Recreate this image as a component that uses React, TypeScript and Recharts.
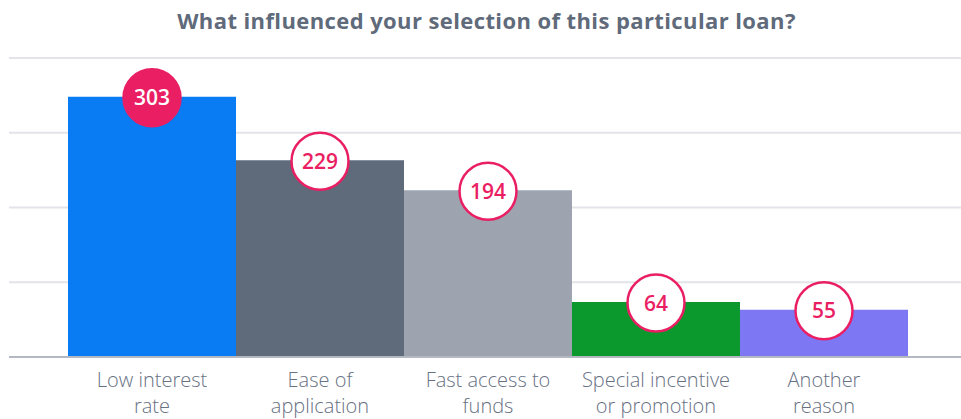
import { Bar, BarChart, CartesianGrid, Cell, LabelList, XAxis, YAxis } from "recharts";

const categories = ["Low interest rate", "Ease of application", "Fast access to funds", "Special incentive or promotion", "Another reason"];
const categoryLines = [
  ["Low interest", "rate"],
  ["Ease of", "application"],
  ["Fast access to", "funds"],
  ["Special incentive", "or promotion"],
  ["Another", "reason"],
];
const counts = [303, 229, 194, 64, 55];
const barColors = ["#0A7CF3", "#5F6A7B", "#9DA4B0", "#0B982D", "#7E77F3"];
const yTicks = [0, 87, 174, 261, 348];

const data = categories.map((name, i) => ({ name, lines: categoryLines[i], count: counts[i] }));

const PINK = "#EA1F63";
const FONT = "'Open Sans', Lato, sans-serif";

function TwoLineTick(props: any) {
  const { x, y, index } = props;
  const lines = data[index]?.lines ?? [];
  return (
    <text x={x} textAnchor="middle" fill="#687183" fontSize={20} fontFamily={FONT} fontWeight={300}>
      {lines.map((l: string, i: number) => (
        <tspan key={i} x={x} y={y + 22 + i * 26}>
          {l}
        </tspan>
      ))}
    </text>
  );
}

function BubbleLabel(props: any) {
  const { x, y, width, value, index } = props;
  const cx = x + width / 2;
  const first = index === 0;
  return (
    <g>
      <circle cx={cx} cy={y + 1} r={28.5} fill={first ? PINK : "#FFFFFF"} stroke={PINK} strokeWidth={2.5} />
      <text
        x={cx}
        y={y + 1}
        dy={7.5}
        textAnchor="middle"
        fontSize={21}
        fontWeight={600}
        fontFamily={FONT}
        fill={first ? "#FFFFFF" : PINK}
      >
        {value}
      </text>
    </g>
  );
}

export default function App() {
  return (
    <div style={{ position: "absolute", left: 0, top: 0, width: 961, height: 419, background: "#fff" }}>
      <div
        style={{
          position: "absolute",
          left: 6,
          top: 5,
          width: 961,
          textAlign: "center",
          fontFamily: FONT,
          fontWeight: 700,
          fontSize: 22,
          letterSpacing: 0.4,
          color: "#5F6A7B",
        }}
      >
        What influenced your selection of this particular loan?
      </div>
      <BarChart
        width={961}
        height={419}
        data={data}
        margin={{ top: 58, right: 0, left: 9, bottom: 0 }}
        barCategoryGap={0}
      >
        <CartesianGrid horizontal vertical={false} stroke="#E3E4EA" strokeWidth={2} />
        <YAxis hide domain={[0, 348]} ticks={yTicks} />
        <XAxis
          dataKey="name"
          height={62}
          padding={{ left: 59, right: 53 }}
          axisLine={{ stroke: "#B3B8C2", strokeWidth: 2 }}
          tickLine={false}
          tick={<TwoLineTick />}
          interval={0}
        />
        <Bar dataKey="count" isAnimationActive={false}>
          {data.map((d, i) => (
            <Cell key={d.name} fill={barColors[i]} />
          ))}
          <LabelList dataKey="count" content={<BubbleLabel />} />
        </Bar>
      </BarChart>
    </div>
  );
}
